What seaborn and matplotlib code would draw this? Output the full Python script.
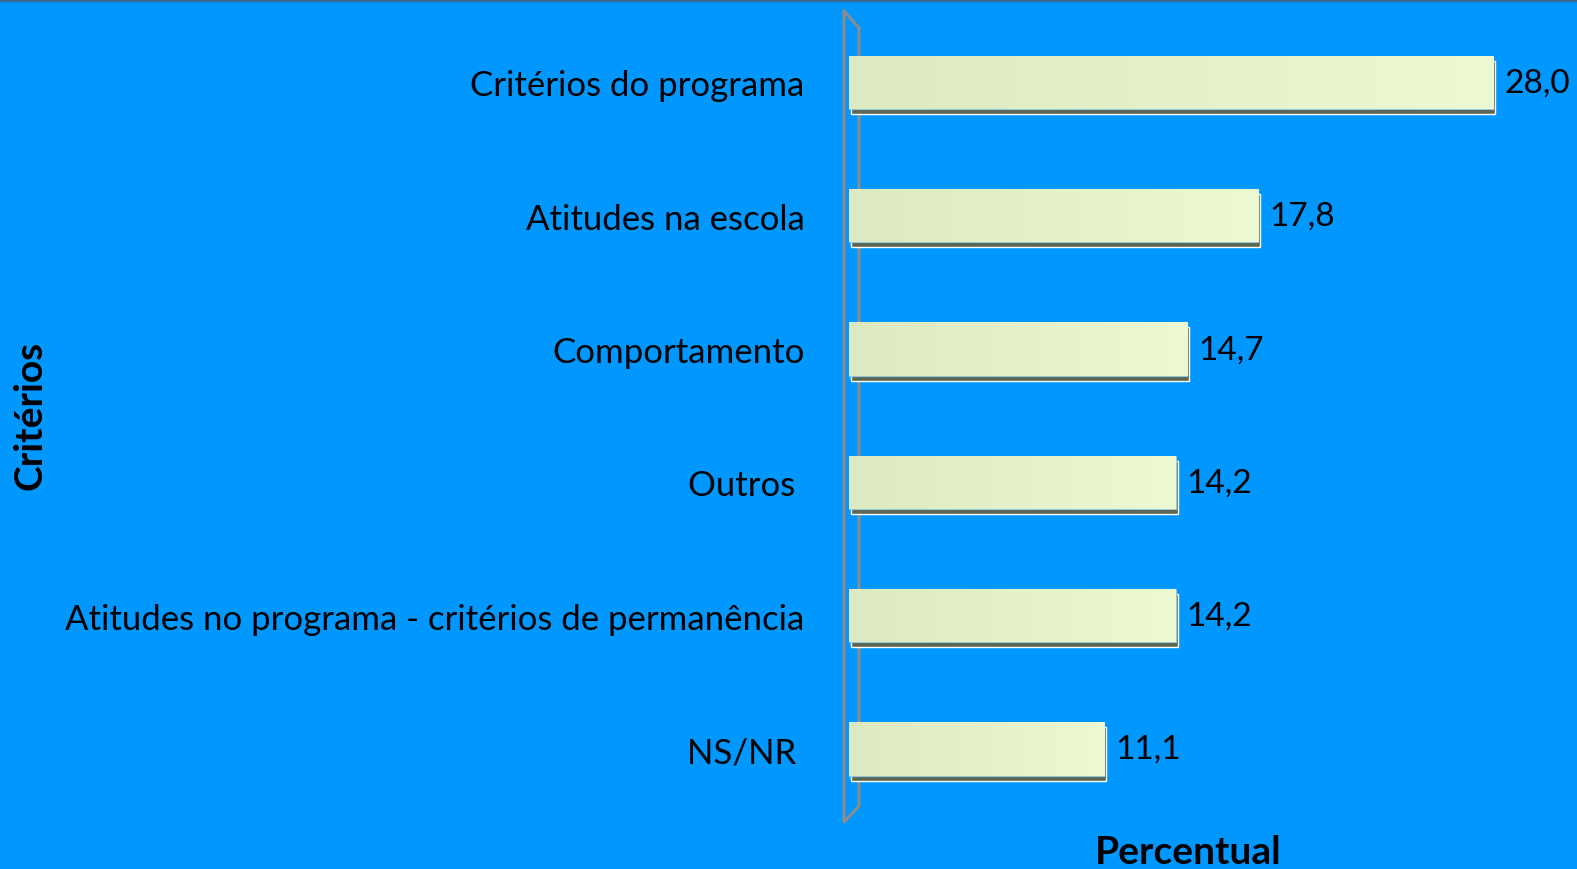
import matplotlib
matplotlib.use('Agg')
import matplotlib.pyplot as plt
import matplotlib.transforms as mtransforms
from matplotlib.lines import Line2D
from matplotlib.colors import LinearSegmentedColormap
import numpy as np
import pandas as pd
import seaborn as sns

categorias = ['Critérios do programa', 'Atitudes na escola', 'Comportamento',
              'Outros ', 'Atitudes no programa - critérios de permanência', 'NS/NR ']
percentual = [28.0, 17.8, 14.7, 14.2, 14.2, 11.1]
rotulos = ['28,0', '17,8', '14,7', '14,2', '14,2', '11,1']

df = pd.DataFrame({'Critérios': categorias, 'Percentual': percentual})

sns.set_theme(style='white')
plt.rcParams['font.family'] = ['Lato', 'DejaVu Sans']

fundo = '#0097ff'
W, H = 1577, 870
fig = plt.figure(figsize=(15.77, 8.7), dpi=100, facecolor=fundo)
ax = fig.add_axes([849 / W, 0, 1 - 849 / W, 1])
ax.patch.set_visible(False)

# 3D-like wall outline (behind the bars)
def px(x, y):
    return x / W, 1 - y / H
wall = [(844, 12), (844, 823), (859, 807), (859, 29), (844, 12)]
xs, ys = zip(*[px(a, b) for a, b in wall])
ax.add_line(Line2D(xs, ys, color='#8c8c8c', lw=2.2, transform=fig.transFigure,
                   clip_on=False, zorder=0.5))

# shadow bars, shifted a few pixels down-right
sombra = mtransforms.offset_copy(ax.transData, fig=fig, x=2, y=-5, units='dots')
for i, v in enumerate(percentual):
    ax.barh(i, v, height=0.4, color='#5d6650', transform=sombra, zorder=1)

sns.barplot(data=df, x='Percentual', y='Critérios', orient='h', width=0.4,
            color='#e3f0c8', edgecolor='#8fc8e0', linewidth=0.8, ax=ax, zorder=2)

# gradient fill clipped to each bar
grad = np.linspace(0, 1, 256).reshape(1, -1)
cmap = LinearSegmentedColormap.from_list('g', ['#dce9c1', '#edf9d3'])
for patch in ax.patches[len(percentual):]:
    x0, y0 = patch.get_x(), patch.get_y()
    w, h = patch.get_width(), patch.get_height()
    im = ax.imshow(grad, extent=[x0, x0 + w, y0 + h, y0], aspect='auto',
                   cmap=cmap, zorder=2.5)
    im.set_clip_path(patch)

for i, (v, t) in enumerate(zip(percentual, rotulos)):
    ax.annotate(t, (v, i), xytext=(8, 0), textcoords='offset points',
                va='center', ha='left', fontsize=24, color='black')

ax.set_xlim(0, 31.65)
ax.set_ylim(5.9, -0.626)
ax.set_xlabel('')
ax.set_ylabel('')
ax.set_xticks([])
ax.tick_params(axis='y', length=0, pad=32, labelsize=25, labelcolor='black')
for s in ax.spines.values():
    s.set_visible(False)

# top border
fig.add_artist(Line2D([0, 1], [1 - 1 / H, 1 - 1 / H], color='#3b6a94', lw=2.5))

fig.text(30 / W, 1 - 415 / H, 'Critérios', rotation=90, fontsize=28,
         fontweight='bold', ha='center', va='center', color='black')
fig.text(1188 / W, 1 - 835 / H, 'Percentual', fontsize=28,
         fontweight='bold', ha='center', va='top', color='black')

fig.savefig('out.png', dpi=100, facecolor=fundo)
